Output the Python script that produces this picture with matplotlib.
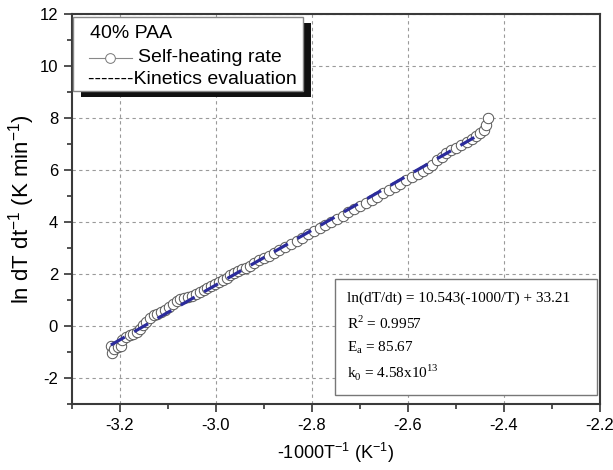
import matplotlib
matplotlib.use("Agg")
import matplotlib.pyplot as plt
from matplotlib.patches import Rectangle
from matplotlib.lines import Line2D

plt.rcParams['font.family'] = ['Liberation Sans', 'DejaVu Sans']
plt.rcParams['mathtext.fontset'] = 'custom'

# ---- data ----
heat_x = [-3.218, -3.217, -3.212, -3.205, -3.198, -3.195, -3.188, -3.180, -3.172, -3.165,
          -3.158, -3.152, -3.145, -3.138, -3.130, -3.122, -3.114, -3.106, -3.098, -3.090,
          -3.082, -3.074, -3.066, -3.058, -3.050, -3.042, -3.034, -3.026, -3.018, -3.010,
          -3.002, -2.994, -2.986, -2.978, -2.970, -2.962, -2.954, -2.946, -2.938, -2.930,
          -2.920, -2.910, -2.900, -2.890, -2.880, -2.868, -2.856, -2.844, -2.832, -2.820,
          -2.808, -2.796, -2.784, -2.772, -2.760, -2.748, -2.736, -2.724, -2.712, -2.700,
          -2.688, -2.676, -2.664, -2.652, -2.640, -2.628, -2.616, -2.604, -2.592, -2.580,
          -2.568, -2.558, -2.549, -2.539, -2.530, -2.520, -2.510, -2.499, -2.489, -2.478,
          -2.467, -2.458, -2.450, -2.442, -2.437, -2.433]
heat_y = [-0.75, -1.05, -0.90, -0.82, -0.78, -0.55, -0.42, -0.35, -0.30, -0.22,
          -0.10, 0.02, 0.15, 0.30, 0.42, 0.48, 0.52, 0.62, 0.72, 0.85,
          0.95, 1.02, 1.08, 1.12, 1.16, 1.22, 1.30, 1.38, 1.46, 1.55,
          1.62, 1.70, 1.78, 1.86, 1.95, 2.03, 2.12, 2.20, 2.25, 2.32,
          2.42, 2.52, 2.60, 2.70, 2.80, 2.92, 3.04, 3.16, 3.28, 3.40,
          3.52, 3.64, 3.76, 3.88, 4.00, 4.12, 4.24, 4.38, 4.50, 4.62,
          4.74, 4.86, 4.98, 5.10, 5.24, 5.36, 5.48, 5.60, 5.72, 5.86,
          5.98, 6.08, 6.19, 6.38, 6.51, 6.64, 6.77, 6.83, 6.96, 7.09,
          7.18, 7.31, 7.41, 7.54, 7.73, 7.99]

fit_x = [-3.219, -2.446]
fit_y = [-0.73, 7.42]

x_ticks = [-3.2, -3.0, -2.8, -2.6, -2.4, -2.2]
y_ticks = [-2, 0, 2, 4, 6, 8, 10, 12]

legend_title = "40% PAA"
label_heat = "Self-heating rate"
label_fit = "-------Kinetics evaluation"
eq_lines = ["ln(dT/dt) = 10.543(-1000/T) + 33.21",
            r"R$^{\mathregular{2}}$ = 0.9957",
            r"E$_{\mathregular{a}}$ = 85.67",
            r"k$_{\mathregular{0}}$ = 4.58x10$^{\mathregular{13}}$"]

# ---- figure ----
fig = plt.figure(figsize=(6.13, 4.70), dpi=100)
ax = fig.add_axes([72/613, 1-404/470, 528/613, 390/470])

ax.set_xlim(-3.3, -2.2)
ax.set_ylim(-3, 12)
ax.set_xticks(x_ticks)
ax.set_yticks(y_ticks)
ax.set_xticklabels([f"{v:.1f}" for v in x_ticks])
ax.set_yticklabels([str(v) for v in y_ticks])
ax.set_xticks([-3.3, -3.1, -2.9, -2.7, -2.5, -2.3], minor=True)
ax.set_yticks([-3, -1, 1, 3, 5, 7, 9, 11], minor=True)

ax.tick_params(which='major', direction='out', length=6, width=1.2, labelsize=12,
               color='#333333', pad=4)
ax.tick_params(which='minor', direction='out', length=3.5, width=1.2, color='#333333')
for s in ax.spines.values():
    s.set_linewidth(1.5)
    s.set_color('#3a3a3a')

ax.grid(True, which='major', color='#9a9a9a', linestyle=(0, (3, 3)), linewidth=0.8)
ax.set_axisbelow(True)

ax.plot(heat_x, heat_y, linestyle='-', color='#777777', linewidth=0.6,
        marker='o', markersize=7.5, markerfacecolor='white',
        markeredgecolor='#555555', markeredgewidth=0.7, zorder=3)
ax.plot(fit_x, fit_y, color='#2b2b9b', linewidth=2.3, dashes=(5, 3.4), zorder=4)

ax.set_xlabel(r"-1000T$^{\mathregular{-1}}$ (K$^{\mathregular{-1}}$)", fontsize=13, labelpad=6)
ax.set_ylabel(r"ln dT dt$^{\mathregular{-1}}$ (K min$^{\mathregular{-1}}$)", fontsize=16,
              labelpad=2)

# ---- legend box (with black shadow) ----
def ax_x(px):
    return (px - 72) / 528

def ax_y(py):
    return (404 - py) / 390

ax.add_patch(Rectangle((ax_x(81), ax_y(97)), ax_x(311) - ax_x(81), ax_y(23) - ax_y(97),
                       transform=ax.transAxes, facecolor='#111111', edgecolor='none', zorder=5))
ax.add_patch(Rectangle((ax_x(73), ax_y(91)), ax_x(303) - ax_x(73), ax_y(17) - ax_y(91),
                       transform=ax.transAxes, facecolor='white', edgecolor='#888888',
                       linewidth=1.0, zorder=6))
ax.text(ax_x(90), ax_y(34), legend_title, transform=ax.transAxes, fontsize=14,
        va='center', ha='left', zorder=7)
ax.add_line(Line2D([ax_x(89), ax_x(132)], [ax_y(58), ax_y(58)], transform=ax.transAxes,
                   color='#888888', linewidth=0.8, zorder=7))
ax.add_line(Line2D([ax_x(110)], [ax_y(58)], transform=ax.transAxes, marker='o',
                   markersize=7, markerfacecolor='white', markeredgecolor='#777777',
                   markeredgewidth=0.7, zorder=8))
ax.text(ax_x(138), ax_y(58), label_heat, transform=ax.transAxes, fontsize=14,
        va='center', ha='left', zorder=7)
ax.text(ax_x(88), ax_y(80), label_fit, transform=ax.transAxes, fontsize=14,
        va='center', ha='left', zorder=7)

# ---- equation box ----
ax.add_patch(Rectangle((ax_x(335), ax_y(395)), ax_x(597) - ax_x(335), ax_y(279) - ax_y(395),
                       transform=ax.transAxes, facecolor='white', edgecolor='#777777',
                       linewidth=1.0, zorder=6))
eq_y = [298, 323, 348, 372]
for txt, py in zip(eq_lines, eq_y):
    ax.text(ax_x(347), ax_y(py), txt, transform=ax.transAxes, fontsize=11,
            family=['Liberation Serif', 'DejaVu Serif'], va='center', ha='left', zorder=7)

fig.savefig("out.png", dpi=100)
